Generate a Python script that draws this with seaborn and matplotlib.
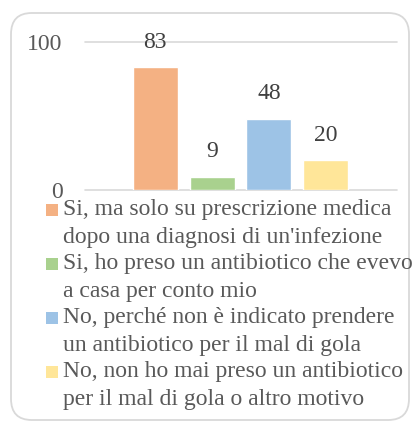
import matplotlib
matplotlib.use("Agg")
import matplotlib.pyplot as plt
from matplotlib.patches import FancyBboxPatch, Rectangle
import seaborn as sns
import pandas as pd

categories = ["Si, ma solo su prescrizione medica dopo una diagnosi di un'infezione",
              "Si, ho preso un antibiotico che evevo a casa per conto mio",
              "No, perché non è indicato prendere un antibiotico per il mal di gola",
              "No, non ho mai preso un antibiotico per il mal di gola o altro motivo"]
values = [83, 9, 48, 20]
legend_lines = [
    ["Si, ma solo su prescrizione medica", "dopo una diagnosi di un'infezione"],
    ["Si, ho preso un antibiotico che evevo", "a casa per conto mio"],
    ["No, perché non è indicato prendere", "un antibiotico per il mal di gola"],
    ["No, non ho mai preso un antibiotico", "per il mal di gola o altro motivo"],
]
colors = ["#F4B183", "#A9D18E", "#9DC3E6", "#FFE699"]
yticks = [0, 100]

sns.set_style("white")
plt.rcParams['font.family'] = ['Liberation Serif', 'DejaVu Serif']

FS = 17
W, H = 415, 424
fig = plt.figure(figsize=(W / 100, H / 100), dpi=100)

# rounded border
border = FancyBboxPatch((11 / W, 4 / H), 398 / W, (H - 13 - 4) / H,
                        boxstyle="round,pad=0,rounding_size=0.05",
                        transform=fig.transFigure, facecolor="none",
                        edgecolor="#d9d9d9", linewidth=1.3, zorder=-1)
fig.patches.append(border)

ax_left, ax_right = 85, 397
ax_top, ax_bot = 42, 190
ax = fig.add_axes([ax_left / W, 1 - ax_bot / H, (ax_right - ax_left) / W, (ax_bot - ax_top) / H])
ax.patch.set_alpha(0)
ax.set_zorder(2)

df = pd.DataFrame({"cat": categories, "val": values})
sns.barplot(data=df, x="cat", y="val", hue="cat", palette=colors, width=0.79,
            legend=False, ax=ax, saturation=1, zorder=3)

ax.set_xlim(-1.237, 4.254)
ax.set_ylim(0, 100)
ax.set_yticks(yticks)
ax.set_yticklabels([str(t) for t in yticks])
ax.set_xticks([])
ax.set_xlabel("")
ax.set_ylabel("")
ax.tick_params(axis="y", length=0, pad=16, labelsize=FS, labelcolor="#595959")
for s in ax.spines.values():
    s.set_visible(False)
for t in yticks:
    ax.axhline(t, color="#d9d9d9", linewidth=1.2, zorder=1, clip_on=False)

for i, v in enumerate(values):
    ax.annotate(str(v), (i, v), xytext=(0, 18), textcoords="offset points",
                ha="center", va="center", fontsize=FS, color="#404040")

# legend
line_h = 27
y0 = 210
for k, (lines, c) in enumerate(zip(legend_lines, colors)):
    yc = y0 + k * 2 * line_h
    fig.patches.append(Rectangle((46 / W, 1 - (yc + 6) / H), 12 / W, 12 / H,
                                 transform=fig.transFigure, facecolor=c,
                                 edgecolor="none"))
    for j, ln in enumerate(lines):
        fig.text(63 / W, 1 - (yc + j * line_h) / H, ln, ha="left", va="center",
                 fontsize=FS, color="#595959")

fig.savefig("out.png", dpi=100)
